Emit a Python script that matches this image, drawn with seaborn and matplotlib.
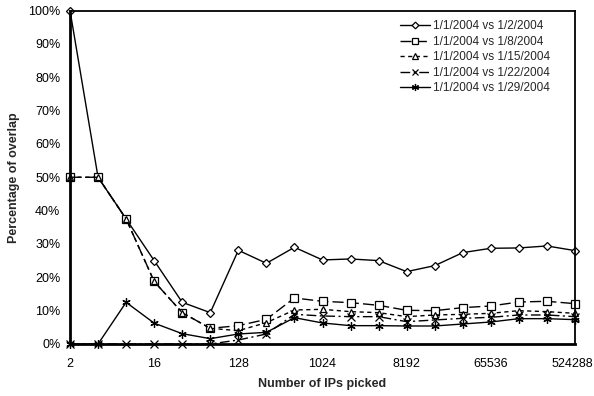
import numpy as np
import pandas as pd
import matplotlib
matplotlib.use("Agg")
import matplotlib.pyplot as plt
import matplotlib.transforms as mtransforms
import seaborn as sns
from matplotlib.ticker import FuncFormatter

# ---- data ----
ips = [2 ** k for k in range(1, 20)]
labels_shown = [2, 16, 128, 1024, 8192, 65536, 524288]
series_names = ["1/1/2004 vs 1/2/2004", "1/1/2004 vs 1/8/2004", "1/1/2004 vs 1/15/2004",
                "1/1/2004 vs 1/22/2004", "1/1/2004 vs 1/29/2004"]
s_jan02 = [100, 50, 37.5, 25, 12.5, 9.4, 28.1, 24.2, 29.0, 25.2, 25.5, 25.0, 21.7, 23.5, 27.4, 28.7, 28.8, 29.4, 28.0]
s_jan08 = [50, 50, 37.5, 18.75, 9.4, 4.7, 5.5, 7.4, 13.8, 12.8, 12.4, 11.6, 10.1, 10.0, 10.9, 11.4, 12.6, 12.8, 12.1]
s_jan15 = [50, 50, 37.5, 18.75, 9.4, 4.7, 4.0, 6.4, 10.2, 10.4, 9.7, 9.4, 8.2, 8.7, 8.9, 9.2, 10.0, 9.7, 9.2]
s_jan22 = [0, 0, 0, 0, 0, 0, 1.2, 3.0, 8.9, 8.4, 8.2, 8.2, 6.7, 7.2, 7.7, 8.0, 8.7, 8.7, 8.2]
s_jan29 = [0, 0, 12.5, 6.25, 3.1, 1.6, 3.0, 3.5, 7.9, 6.3, 5.5, 5.5, 5.4, 5.4, 6.0, 6.6, 7.6, 7.6, 7.3]
values = [s_jan02, s_jan08, s_jan15, s_jan22, s_jan29]

sns.set_style("white")
plt.rcParams['font.family'] = ['Liberation Sans', 'DejaVu Sans']

fig = plt.figure(figsize=(5.94, 3.96), dpi=100)
ax = fig.add_axes([70 / 594, 1 - 344 / 396, 505 / 594, (344 - 10.5) / 396])

styles = [
    dict(marker="D", markersize=4, dashes=None),
    dict(marker="s", markersize=5.5, dashes=(8, 3)),
    dict(marker="^", markersize=5, dashes=(3, 2.5)),
    dict(marker="x", markersize=5.5, dashes=(7, 2.5, 1.5, 2.5)),
    dict(marker=(6, 2, 0), markersize=6, dashes=None),
]

for name, vals, st in zip(series_names, values, styles):
    df = pd.DataFrame({"ips": ips, "pct": vals})
    kw = dict(color="black", linewidth=1.0, marker=st["marker"], markersize=st["markersize"],
              markerfacecolor="white", markeredgecolor="black", markeredgewidth=0.9,
              clip_on=False, label=name)
    sns.lineplot(data=df, x="ips", y="pct", ax=ax, **kw)
    ln = ax.lines[-1]
    if st["dashes"] is not None:
        ln.set_dashes(st["dashes"])
    else:
        ln.set_linestyle("-")

ax.set_xscale("log", base=2)
ax.set_xlim(2, 524288)
ax.set_ylim(0, 100)
ax.set_xticks(ips)
ax.set_xticklabels([str(v) if v in labels_shown else "" for v in ips])
ax.minorticks_off()
ax.set_yticks(np.arange(0, 101, 10))
ax.yaxis.set_major_formatter(FuncFormatter(lambda v, p: f"{int(round(v))}%"))
ax.tick_params(axis="both", which="major", direction="out", length=4, width=1.3,
               labelsize=9, color="black", labelcolor="black", pad=3)
ax.tick_params(axis="x", pad=6)

# nudge the last x label slightly so it stays inside the canvas
last = ax.get_xticklabels()[-1]
last.set_transform(last.get_transform() + mtransforms.ScaledTranslation(-3 / 100, 0, fig.dpi_scale_trans))

for side in ["left", "bottom"]:
    ax.spines[side].set_linewidth(2.0)
    ax.spines[side].set_color("black")
for side in ["top", "right"]:
    ax.spines[side].set_linewidth(1.3)
    ax.spines[side].set_color("black")
    ax.spines[side].set_visible(True)

ax.set_xlabel("Number of IPs picked", fontsize=9, fontweight="bold", labelpad=6)
ax.set_ylabel("Percentage of overlap", fontsize=9, fontweight="bold", labelpad=6)

ax.legend(loc="upper right", bbox_to_anchor=(0.964, 0.992), frameon=False, fontsize=8.5,
          handlelength=2.6, handletextpad=0.2, labelspacing=0.3, borderaxespad=0.2,
          markerscale=0.85)

fig.savefig("out.png", dpi=100)
